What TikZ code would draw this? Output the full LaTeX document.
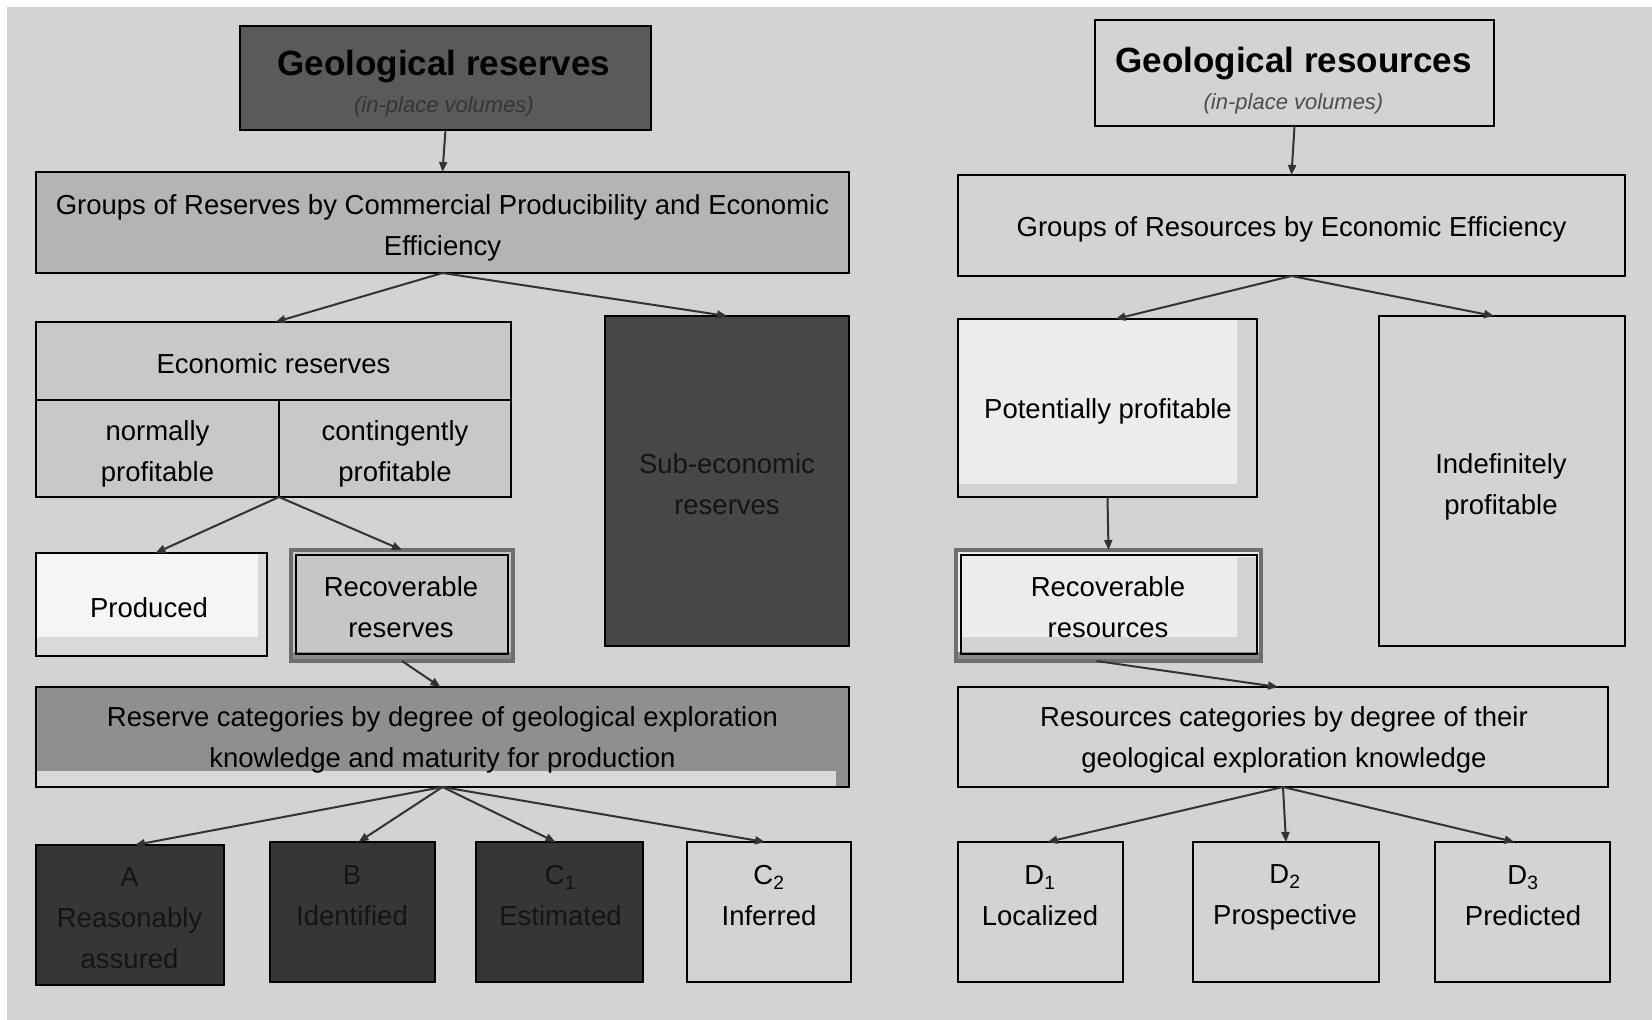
\documentclass[tikz,border=0pt]{standalone}
\usepackage{fontspec}
\setmainfont{Liberation Sans}
\usetikzlibrary{arrows.meta,calc}

\definecolor{bgc}{HTML}{D3D3D3}
\definecolor{titlefill}{HTML}{5A5A5A}
\definecolor{groupfill}{HTML}{B4B4B4}
\definecolor{econfill}{HTML}{C8C8C8}
\definecolor{subfill}{HTML}{474747}
\definecolor{catfill}{HTML}{8F8F8F}
\definecolor{darkfill}{HTML}{363636}
\definecolor{lightfill}{HTML}{ECECEC}
\definecolor{whitefill}{HTML}{F5F5F5}
\definecolor{recfill}{HTML}{C6C6C6}
\definecolor{stripc}{HTML}{D9D9D9}
\definecolor{rimc}{HTML}{6E6E6E}
\definecolor{arrowc}{HTML}{333333}
\definecolor{darktext}{HTML}{141414}
\definecolor{subtext}{HTML}{353535}
\definecolor{subtextlight}{HTML}{4E4E4E}

% box given by its corners: \pbox[style]{name}{x1}{y1}{x2}{y2}
\newcommand\pbox[6][]{%
  \node[box,#1,minimum width={#5-#3},minimum height={#6-#4}]
    (#2) at ({(#3+#5)/2},{(#4+#6)/2}) {};}
% border redrawn over inner strips
\newcommand\rim[1]{\draw[rimline] (#1.north west) rectangle (#1.south east);}

\begin{document}
\begin{tikzpicture}[x=1pt,y=-1pt,
  box/.style={rectangle,draw=black,line width=2.8pt,inner sep=0pt,outer sep=0pt},
  rimline/.style={draw=black,line width=2.8pt},
  txt/.style={font=\fontsize{27.5}{41}\selectfont,align=center,inner sep=0pt,text=black},
  title/.style={font=\fontsize{35}{40}\selectfont\bfseries,inner sep=0pt},
  subt/.style={font=\fontsize{22}{26}\selectfont\itshape,inner sep=0pt},
  arr/.style={draw=arrowc,line width=2pt,-{Triangle[length=10pt,width=8pt]}}]

\useasboundingbox (0,0) rectangle (1652,1020);
\fill[white] (0,0) rectangle (1652,1020);
\fill[bgc] (7,7) rectangle (1652,1020);

% ---------------- reserves column ----------------
\pbox[fill=titlefill]{gres}{240}{26}{651}{130}
\pbox[fill=groupfill]{grpres}{36}{172}{849}{273}
\pbox[fill=econfill]{econ}{36}{322}{511}{497}
\draw[rimline] (36,400) -- (511,400);
\draw[rimline] (279,400) -- (279,497);
\pbox[fill=subfill]{subecon}{605}{316}{849}{646}

\pbox[fill=whitefill,draw=none]{prod}{36}{553}{267}{656}
\fill[stripc] (258,553) rectangle (267,656);
\fill[stripc] (36,637) rectangle (267,656);
\rim{prod}

\pbox[fill=recfill,draw=rimc,line width=3.5pt]{recres}{291}{550}{513}{661}
\fill[rimc!80] (293,652) rectangle (511,659);
\draw[black,line width=2.5pt] (296,555) rectangle (508,654);

\pbox[fill=catfill,draw=none]{rcat}{36}{687}{849}{787}
\fill[stripc] (36,771) rectangle (836,787);
\rim{rcat}

\pbox[fill=darkfill]{catA}{36}{845}{224}{985}
\pbox[fill=darkfill]{catB}{270}{842}{435}{982}
\pbox[fill=darkfill]{catC1}{476}{842}{643}{982}
\pbox[fill=bgc]{catC2}{687}{842}{851}{982}

% ---------------- resources column ----------------
\pbox[fill=bgc]{gsrc}{1095}{20}{1494}{126}
\pbox[fill=bgc]{grpsrc}{958}{175}{1625}{276}

\pbox[fill=lightfill,draw=none]{pot}{958}{319}{1257}{497}
\fill[bgc] (1237,319) rectangle (1257,497);
\fill[bgc] (958,484) rectangle (1257,497);
\rim{pot}

\pbox[fill=bgc]{indef}{1379}{316}{1625}{646}

\pbox[fill=lightfill,draw=rimc,line width=3.5pt]{recsrc}{956}{550}{1261}{661}
\fill[bgc] (1237,557) rectangle (1256,652);
\fill[bgc] (960,637) rectangle (1256,652);
\fill[rimc!80] (958,652) rectangle (1259,659);
\draw[black,line width=2.5pt] (961,555) rectangle (1257,654);

\pbox[fill=bgc]{scat}{958}{687}{1608}{787}
\pbox[fill=bgc]{catD1}{958}{842}{1123}{982}
\pbox[fill=bgc]{catD2}{1193}{842}{1379}{982}
\pbox[fill=bgc]{catD3}{1435}{842}{1610}{982}

% ---------------- texts ----------------
\node[title,text=black] (gresT) at (444,67) {Geological reserves};
\node[subt,text=subtext] (gresS) at (444,107) {(in-place volumes)};
\node[txt] (grpresT) at (442.5,228) {Groups of Reserves by Commercial Producibility and Economic\\Efficiency};
\node[txt] (econT) at (273.5,364) {Economic reserves};
\node[txt] (normT) at (157.5,454) {normally\\profitable};
\node[txt] (contT) at (395,454) {contingently\\profitable};
\node[txt,text=darktext] (subeconT) at (727,484.5) {Sub-economic\\reserves};
\node[txt] (prodT) at (149,608) {Produced};
\node[txt] (recresT) at (401,607.5) {Recoverable\\reserves};
\node[txt] (rcatT) at (442.5,740) {Reserve categories by degree of geological exploration\\knowledge and maturity for production};
\node[txt,text=darktext] (catAT) at (129.6,918) {A\\Reasonably\\assured};
\node[txt,text=darktext] (catBT) at (352,895.5) {B\\Identified};
\node[txt,text=darktext] (catC1T) at (560.5,895.5) {C\textsubscript{1}\\Estimated};
\node[txt] (catC2T) at (769,895.5) {C\textsubscript{2}\\Inferred};

\node[title,text=black] (gsrcT) at (1293.5,64) {Geological resources};
\node[subt,text=subtextlight] (gsrcS) at (1293.5,104) {(in-place volumes)};
\node[txt] (grpsrcT) at (1291.5,229.5) {Groups of Resources by Economic Efficiency};
\node[txt] (potT) at (1108,411) {Potentially profitable};
\node[txt] (indefT) at (1501,487) {Indefinitely\\profitable};
\node[txt] (recsrcT) at (1108,607.5) {Recoverable\\resources};
\node[txt] (scatT) at (1284,740) {Resources categories by degree of their\\geological exploration knowledge};
\node[txt] (catD1T) at (1040,895.5) {D\textsubscript{1}\\Localized};
\node[txt] (catD2T) at (1285,897.5) {D\textsubscript{2}\\Prospective};
\node[txt] (catD3T) at (1523,895.5) {D\textsubscript{3}\\Predicted};

% ---------------- connectors ----------------
\draw[arr] (gres.south) -- (grpres.north);
\draw[arr] (grpres.south) -- ([xshift=2pt]econ.north);
\draw[arr] (grpres.south) -- (subecon.north);
\draw[arr] (econ.south -| 279,0) -- ([xshift=4pt]prod.north);
\draw[arr] (econ.south -| 279,0) -- (recres.north);
\draw[arr] (recres.south) -- ([xshift=-2pt]rcat.north);
\draw[arr] (rcat.south) -- ([xshift=5pt]catA.north);
\draw[arr] (rcat.south) -- ([xshift=6pt]catB.north);
\draw[arr] (rcat.south) -- ([xshift=-4pt]catC1.north);
\draw[arr] (rcat.south) -- ([xshift=-4pt]catC2.north);

\draw[arr] (gsrc.south) -- (grpsrc.north);
\draw[arr] (grpsrc.south) -- ([xshift=8pt]pot.north);
\draw[arr] (grpsrc.south) -- ([xshift=-8pt]indef.north);
\draw[arr] (pot.south) -- (recsrc.north);
\draw[arr] ([xshift=-12pt]recsrc.south) -- ([xshift=-5pt]scat.north);
\draw[arr] (scat.south) -- ([xshift=7pt]catD1.north);
\draw[arr] (scat.south) -- (catD2.north);
\draw[arr] (scat.south) -- ([xshift=-8pt]catD3.north);
\end{tikzpicture}
\end{document}
